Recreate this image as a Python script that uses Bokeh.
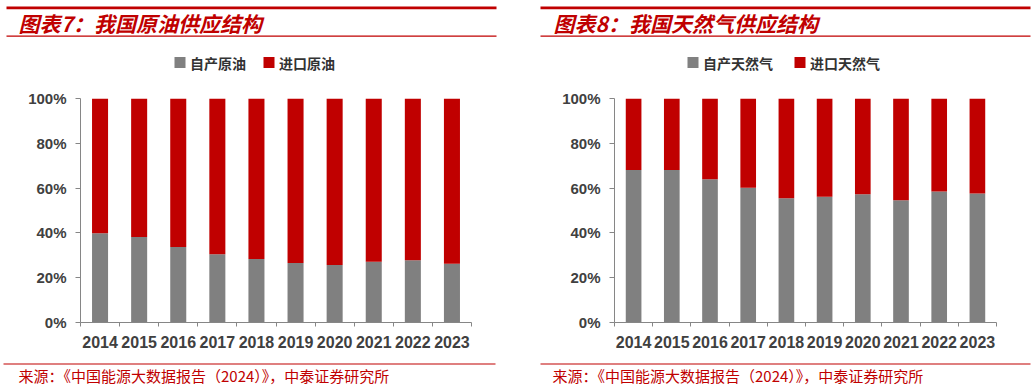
from bokeh.plotting import figure
from bokeh.models import (ColumnDataSource, Range1d, LinearAxis,
                          FixedTicker, PrintfTickFormatter)
from bokeh.layouts import row, column
from bokeh.embed import file_html
from bokeh.resources import INLINE
from bokeh.core.properties import value

# ---------------- data ----------------
years = ["2014", "2015", "2016", "2017", "2018", "2019", "2020", "2021", "2022", "2023"]

oil_series = ["自产原油", "进口原油"]
oil_domestic = [39.8, 38.2, 33.7, 30.5, 28.3, 26.6, 25.7, 27.1, 27.8, 26.2]
oil_imported = [60.2, 61.8, 66.3, 69.5, 71.7, 73.4, 74.3, 72.9, 72.2, 73.8]

gas_series = ["自产天然气", "进口天然气"]
gas_domestic = [68.1, 68.1, 63.9, 60.2, 55.5, 56.1, 57.2, 54.6, 58.5, 57.6]
gas_imported = [31.9, 31.9, 36.1, 39.8, 44.5, 43.9, 42.8, 45.4, 41.5, 42.4]

y_ticks = [0, 20, 40, 60, 80, 100]

titles = ["图表7：我国原油供应结构", "图表8：我国天然气供应结构"]
source_text = "来源：《中国能源大数据报告（2024）》，中泰证券研究所"

# ---------------- style ----------------
RED = "#C00000"
GRAY = "#808080"
SERIES_COLORS = [GRAY, RED]
AXIS = "#868686"
TXT = "#404040"
CJK = "Noto Sans CJK SC"
LATIN = "Liberation Sans"

W = 1035
HEAD_H, CHART_H, FOOT_H = 80, 272, 35
PANEL_W = [517, 518]
RULES = [(6, 496), (540, 1030)]        # horizontal extent of the red rules
TEXT_X = [18, 553]                      # left edge of titles / source notes
LEGEND_SWATCH_X = [[179.5, 268.5], [692.5, 799.5]]   # legend swatch centres (px)
LEGEND_Y = 62

n = len(years)
centers = [i + 0.5 for i in range(n)]      # category centres on a 0..n axis
edges = list(range(n + 1))                 # category boundaries (tick marks)


def deco_fig(width, height):
    f = figure(width=width, height=height, x_range=Range1d(0, width), y_range=Range1d(height, 0),
               toolbar_location=None, output_backend="svg", min_border=0, frame_align=False,
               x_axis_location=None, y_axis_location=None, outline_line_color=None)
    f.grid.visible = False
    return f


# ---------------- header (both panels): rules, titles, legends ----------------
head = deco_fig(W, HEAD_H)
head.quad(left=[r[0] for r in RULES], right=[r[1] for r in RULES], top=[6, 6], bottom=[8.8, 8.8],
          fill_color=RED, line_color=None)
head.segment(x0=[r[0] for r in RULES], y0=[35.7, 35.7], x1=[r[1] for r in RULES], y1=[35.7, 35.7],
             line_color=RED, line_width=1.2)
head.text(x=TEXT_X, y=[22.5, 22.5], text=titles, text_font=value(CJK),
          text_font_style="bold italic", text_font_size="21px", text_color=RED,
          text_align="left", text_baseline="middle")

for series, xs in zip([oil_series, gas_series], LEGEND_SWATCH_X):
    head.rect(x=xs, y=[LEGEND_Y] * len(xs), width=11, height=11,
              fill_color=SERIES_COLORS, line_color=None)
    head.text(x=[x + 10 for x in xs], y=[LEGEND_Y + 0.5] * len(xs), text=series,
              text_font=value(CJK), text_font_style="bold", text_font_size="14px",
              text_color="#333333", text_align="left", text_baseline="middle")


# ---------------- charts ----------------
def chart(width, dom, imp, fl, fr):
    c = figure(width=width, height=CHART_H, x_range=Range1d(0, n), y_range=Range1d(0, 100),
               toolbar_location=None, output_backend="svg", frame_align=False,
               min_border_left=fl, min_border_right=fr, min_border_top=18, min_border_bottom=30,
               x_axis_location=None, y_axis_location="left", outline_line_color=None)
    c.grid.visible = False
    src = ColumnDataSource(dict(x=centers, year=years, dom=dom, imp=imp))
    c.vbar_stack(["dom", "imp"], x="x", width=0.41, fill_color=SERIES_COLORS,
                 line_color=None, source=src)

    ya = c.yaxis[0]
    ya.ticker = FixedTicker(ticks=y_ticks)
    ya.formatter = PrintfTickFormatter(format="%d%%")
    ya.axis_line_color = AXIS
    ya.major_tick_line_color = AXIS
    ya.major_tick_out = 5
    ya.major_tick_in = 0
    ya.minor_tick_line_color = None
    ya.major_label_standoff = 9
    ya.major_label_text_font = LATIN
    ya.major_label_text_font_style = "bold"
    ya.major_label_text_font_size = "15px"
    ya.major_label_text_color = TXT

    # boundary tick marks (no labels)
    ta = LinearAxis(ticker=FixedTicker(ticks=edges),
                    major_label_overrides={e: "" for e in edges},
                    axis_line_color=AXIS, major_tick_line_color=AXIS, major_tick_out=4,
                    major_tick_in=0, minor_tick_line_color=None,
                    major_label_text_font_size="1px", major_label_standoff=0)
    c.add_layout(ta, "below")
    # year labels at centres
    ca = LinearAxis(ticker=FixedTicker(ticks=centers),
                    major_label_overrides={cx: y for cx, y in zip(centers, years)},
                    axis_line_color=None, major_tick_line_color=None, minor_tick_line_color=None,
                    major_label_text_font=LATIN, major_label_text_font_style="bold",
                    major_label_text_font_size="16px", major_label_text_color=TXT,
                    major_label_standoff=3)
    c.add_layout(ca, "below")
    return c


left = chart(PANEL_W[0], oil_domestic, oil_imported, fl=80, fr=46)
right = chart(PANEL_W[1], gas_domestic, gas_imported, fl=97, fr=39)

# ---------------- footer (both panels) ----------------
foot = deco_fig(W, FOOT_H)
foot.segment(x0=[3, 540], y0=[11.5, 11.5], x1=[495, 1030], y1=[11.5, 11.5],
             line_color=RED, line_width=1.2)
foot.text(x=[18, 552], y=[23, 23], text=[source_text, source_text], text_font=value(CJK),
          text_font_size="15px", text_color=RED, text_align="left", text_baseline="middle")

p = column(head, row(left, right, spacing=0), foot, spacing=0)

with open("out.html", "w") as fh:
    fh.write(file_html(p, INLINE))
